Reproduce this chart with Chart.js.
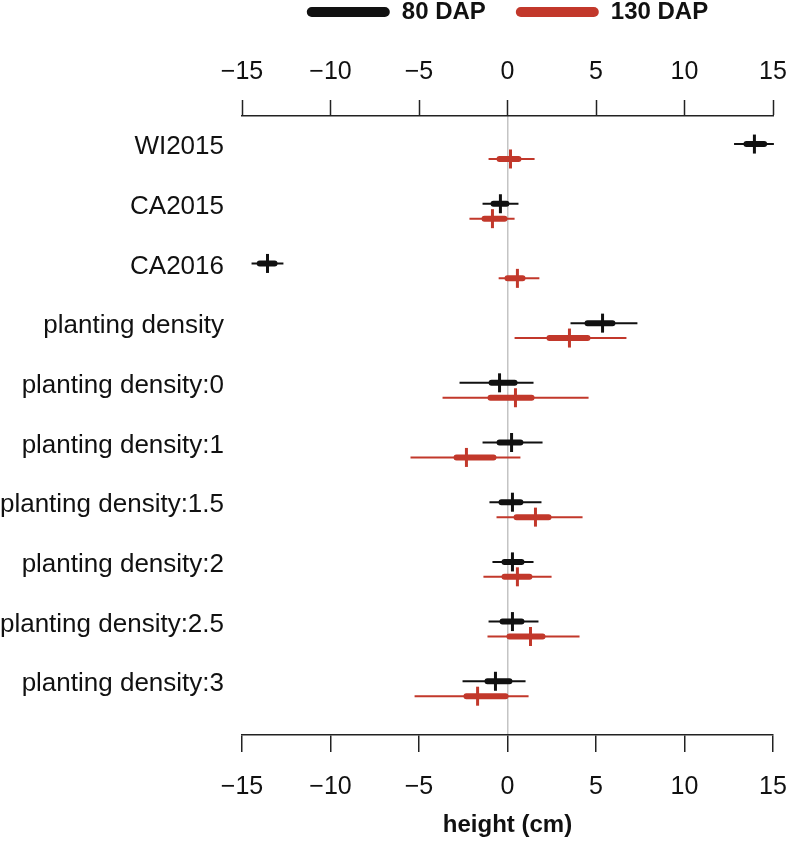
<!DOCTYPE html>
<html>
<head>
<meta charset="utf-8">
<script src="https://cdn.jsdelivr.net/npm/chart.js@4.4.1/dist/chart.umd.min.js"></script>
<style>
    html, body { margin: 0; padding: 0; background: #fff; }
</style>
</head>
<body>
<canvas id="effectChart" width="790" height="846"></canvas>
<script>
const terms = ["WI2015", "CA2015", "CA2016", "planting density", "planting density:0",
    "planting density:1", "planting density:1.5", "planting density:2",
    "planting density:2.5", "planting density:3"];

const seriesNames = ["80 DAP", "130 DAP"];
const seriesColors = ['#111111', '#c2382b'];

// 80 DAP estimates (cm)
const dap80Median = [13.95, -0.4, -13.56, 5.37, -0.45, 0.23, 0.28, 0.28, 0.28, -0.68];
const dap80Low50 = [13.5, -0.79, -14.0, 4.52, -0.9, -0.45, -0.34, -0.17, -0.28, -1.13];
const dap80High50 = [14.5, -0.06, -13.16, 5.93, 0.4, 0.73, 0.73, 0.79, 0.79, 0.11];
const dap80Low95 = [12.8, -1.41, -14.46, 3.56, -2.71, -1.41, -1.02, -0.85, -1.07, -2.54];
const dap80High95 = [15.05, 0.62, -12.66, 7.34, 1.47, 1.98, 1.92, 1.47, 1.75, 1.02];

// 130 DAP estimates (cm)
const dap130Median = [0.17, -0.85, 0.56, 3.5, 0.45, -2.32, 1.58, 0.56, 1.3, -1.69];
const dap130Low50 = [-0.45, -1.3, 0.0, 2.37, -0.96, -2.88, 0.51, -0.17, 0.11, -2.32];
const dap130High50 = [0.62, -0.17, 0.85, 4.52, 1.36, -0.79, 2.32, 1.24, 1.98, -0.11];
const dap130Low95 = [-1.07, -2.15, -0.5, 0.4, -3.67, -5.48, -0.62, -1.36, -1.13, -5.25];
const dap130High95 = [1.53, 0.4, 1.8, 6.72, 4.58, 0.73, 4.24, 2.49, 4.07, 1.19];

const xTicks = [-15, -10, -5, 0, 5, 10, 15];

Chart.defaults.font.family = '"Liberation Sans", Arial, Helvetica, sans-serif';
Chart.defaults.color = '#111';

// row offsets: 80 DAP sits on the row, 130 DAP just below
const rowOffset = [0, 0.25];

const segments = (lo, hi, offset) => {
    let pts = [];
    for (let i = 0; i < terms.length; i++) {
        pts.push({x: lo[i], y: i + offset});
        pts.push({x: hi[i], y: i + offset});
        pts.push({x: null, y: i + offset});
    }
    return pts;
}

const medians = (med, offset) => med.map((v, i) => ({x: v, y: i + offset}));

const fmtTick = (v) => v < 0 ? '\u2212' + Math.abs(v) : '' + v;

const series = [
    {med: dap80Median, lo50: dap80Low50, hi50: dap80High50, lo95: dap80Low95, hi95: dap80High95},
    {med: dap130Median, lo50: dap130Low50, hi50: dap130High50, lo95: dap130Low95, hi95: dap130High95}
];

let datasets = [];
// thick 50% bars first so the legend picks them up in order
series.forEach((s, k) => {
    datasets.push({
        label: seriesNames[k],
        data: segments(s.lo50, s.hi50, rowOffset[k]),
        showLine: true, spanGaps: false,
        borderColor: seriesColors[k], backgroundColor: seriesColors[k],
        borderWidth: 6, borderCapStyle: 'round',
        pointRadius: 0, order: 1, clip: false
    });
});
series.forEach((s, k) => {
    datasets.push({
        label: seriesNames[k] + ' 95%',
        data: segments(s.lo95, s.hi95, rowOffset[k]),
        showLine: true, spanGaps: false,
        borderColor: seriesColors[k], backgroundColor: seriesColors[k],
        borderWidth: 2, pointRadius: 0, order: 2, clip: false
    });
    datasets.push({
        label: seriesNames[k] + ' median',
        data: medians(s.med, rowOffset[k]),
        showLine: false,
        pointStyle: 'line', rotation: 90, pointRadius: 9.5,
        borderColor: seriesColors[k], backgroundColor: seriesColors[k],
        pointBorderWidth: 3, order: 0, clip: false
    });
});

const noSidePadding = (scale) => {
    scale.paddingLeft = 0;
    scale.paddingRight = 0;
}

const xAxisCommon = {
    type: 'linear',
    min: -15,
    max: 15,
    afterBuildTicks: (scale) => { scale.ticks = xTicks.map(v => ({value: v})); },
    border: {display: true, color: '#222', width: 1.5}
};

const ctx = document.getElementById('effectChart');
const chart = new Chart(ctx, {
    type: 'scatter',
    data: {datasets: datasets},
    options: {
        responsive: false,
        animation: false,
        layout: {padding: {left: 0, right: 17, top: -30, bottom: 0}},
        plugins: {
            tooltip: {enabled: false},
            legend: {
                position: 'top',
                fullSize: false,
                labels: {
                    generateLabels: (chart) => seriesNames.map((name, k) => ({
                        text: name,
                        fillStyle: seriesColors[k],
                        strokeStyle: seriesColors[k],
                        lineWidth: 0,
                        borderRadius: 5,
                        fontColor: '#111',
                        datasetIndex: k
                    })),
                    useBorderRadius: true,
                    borderRadius: 5,
                    boxWidth: 83,
                    boxHeight: 10,
                    padding: 30,
                    font: {size: 24, weight: 'bold'}
                }
            }
        },
        scales: {
            x: Object.assign({}, xAxisCommon, {
                position: 'bottom',
                afterFit: (scale) => { scale.height = 111; noSidePadding(scale); },
                ticks: {callback: fmtTick, font: {size: 25}, color: '#111', padding: 20, maxRotation: 0},
                grid: {
                    color: (c) => (c.tick && c.tick.value === 0) ? '#c4c4c4' : 'rgba(0,0,0,0)',
                    lineWidth: 1.5,
                    tickColor: '#222',
                    tickWidth: 1.5,
                    tickLength: 17
                },
                title: {
                    display: true,
                    text: 'height (cm)',
                    font: {size: 24, weight: 'bold'},
                    color: '#111',
                    padding: {top: 0, bottom: 6}
                }
            }),
            x2: Object.assign({}, xAxisCommon, {
                position: 'top',
                afterFit: (scale) => { scale.height = 82; noSidePadding(scale); },
                ticks: {callback: fmtTick, font: {size: 25}, color: '#111', padding: 13, maxRotation: 0},
                grid: {
                    drawOnChartArea: false,
                    color: '#222',
                    tickColor: '#222',
                    tickWidth: 1.5,
                    tickLength: 16
                }
            }),
            y: {
                type: 'linear',
                reverse: true,
                min: -0.47,
                max: 9.9,
                afterBuildTicks: (scale) => { scale.ticks = terms.map((t, i) => ({value: i + 0.05})); },
                afterFit: (scale) => { scale.width = 242; },
                ticks: {
                    callback: (v) => terms[Math.round(v)],
                    font: {size: 26},
                    color: '#111',
                    padding: 10
                },
                grid: {display: false},
                border: {display: false}
            }
        }
    }
});
</script>
</body>
</html>
